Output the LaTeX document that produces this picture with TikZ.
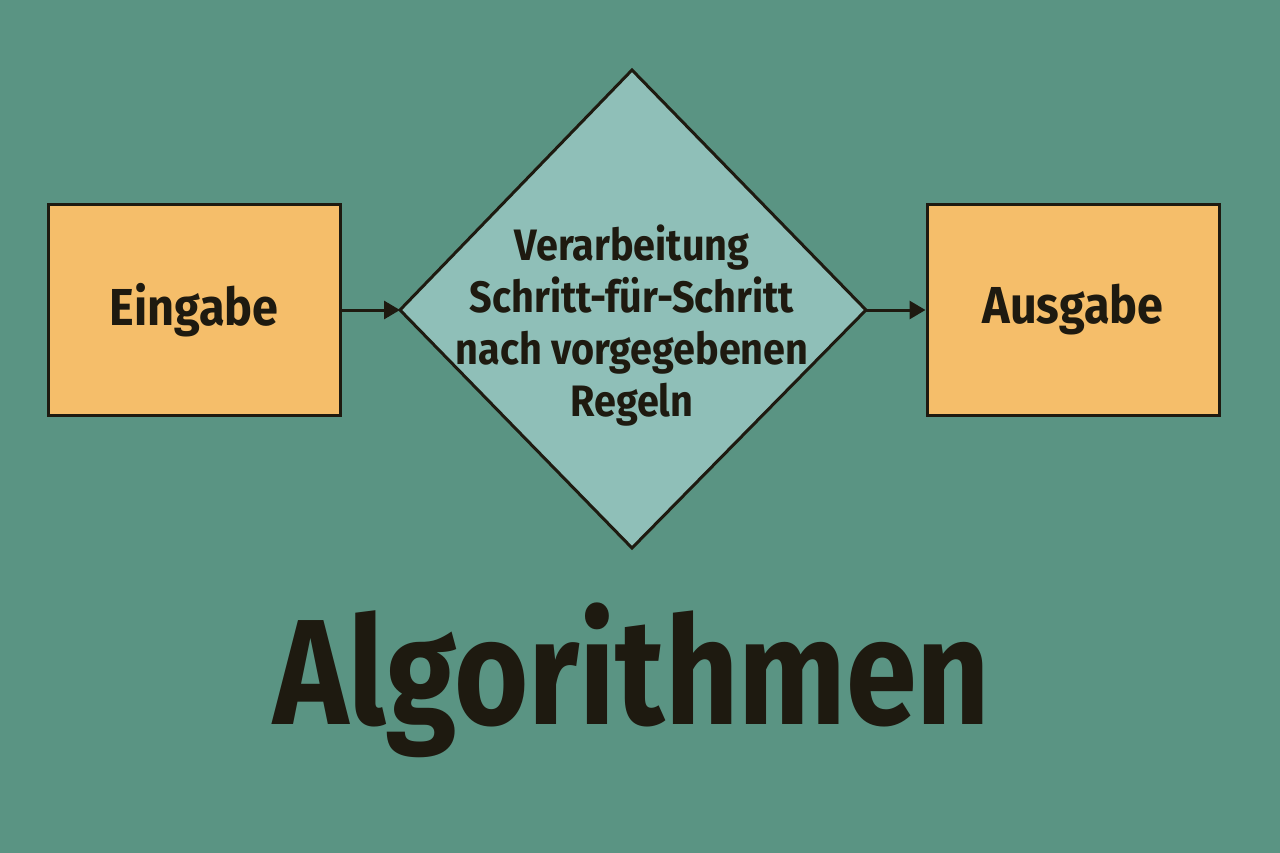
\documentclass[tikz,border=0pt]{standalone}
\usepackage{fontspec}
\setmainfont{Fira Sans}[UprightFont=* Bold]
\usetikzlibrary{arrows.meta}
\definecolor{bg}{HTML}{5A9483}
\definecolor{boxc}{HTML}{F5BE6A}
\definecolor{dia}{HTML}{8FBFB8}
\definecolor{ink}{HTML}{1E1A10}
\begin{document}
\begin{tikzpicture}[x=1pt,y=-1pt,
  box/.style={draw=ink,line width=3pt,fill=boxc,minimum width=292pt,minimum height=210pt,font=\fontsize{52}{56}\selectfont,text=ink},
  conn/.style={draw=ink,line width=3pt,-{Triangle[length=16pt,width=18pt]}}]
\fill[bg] (0,0) rectangle (1280,853);
\useasboundingbox (0,0) rectangle (1280,853);
\node[box] (in) at (194,310) {\scalebox{0.9}[1]{Eingabe}};
\node[box] (out) at (1073,310) {\scalebox{0.9}[1]{Ausgabe}};
\coordinate (dl) at (400,310);
\coordinate (dr) at (866,310);
\draw[ink,line width=3pt,fill=dia,line join=miter] (632,70) -- (dr) -- (632,548) -- (dl) -- cycle;
\node[text=ink,align=center,font=\fontsize{44}{52}\selectfont] (proc) at (632,326)
 {\scalebox{0.9}[1]{Verarbeitung}\\\scalebox{0.9}[1]{Schritt-für-Schritt}\\\scalebox{0.9}[1]{nach vorgegebenen}\\\scalebox{0.9}[1]{Regeln}};
\draw[conn] (in.east) -- (dl);
\draw[conn] (dr) -- (out.west);
\node[text=ink,font=\fontsize{150}{150}\selectfont] (title) at (632,680) {\scalebox{0.85}[1]{Algorithmen}};
\end{tikzpicture}
\end{document}
